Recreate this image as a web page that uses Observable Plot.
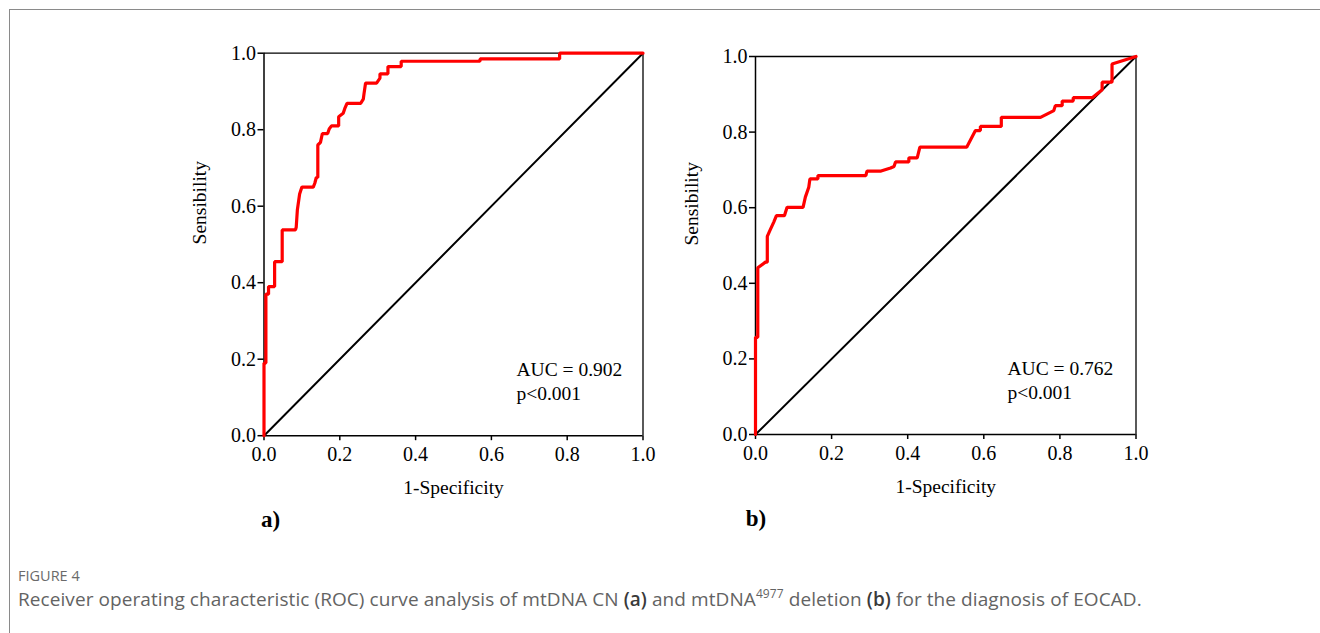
<!DOCTYPE html>
<html><head><meta charset="utf-8">
<script src="https://cdn.jsdelivr.net/npm/d3@7"></script>
<script src="https://cdn.jsdelivr.net/npm/@observablehq/plot@0.6"></script>
<style>
body{margin:0;background:#fff;width:1320px;height:633px;overflow:hidden;position:relative}
#frame{position:absolute;left:9px;top:9px;width:1400px;height:700px;border-left:1.5px solid #8a8a8a;border-top:1.5px solid #8a8a8a}
#pa{position:absolute;left:170px;top:30px}
#pb{position:absolute;left:660px;top:30px}
#fig{position:absolute;left:18px;top:566px;font:14.5px "Open Sans";color:#6a6a6a}
#cap{position:absolute;left:18px;top:586px;font:19px "Open Sans";color:#636363;white-space:nowrap;letter-spacing:0.08px}
#cap b{font-weight:600;color:#3a3a3a}
#cap sup{font-size:12px;vertical-align:8px;line-height:0}
</style>
</head><body>
<div id="frame"></div>
<div id="pa"></div>
<div id="pb"></div>
<div id="fig">FIGURE 4</div>
<div id="cap">Receiver operating characteristic (ROC) curve analysis of mtDNA CN <b>(a)</b> and mtDNA<sup>4977</sup> deletion <b>(b)</b> for the diagnosis of EOCAD.</div>
<script>
// Panel a: mtDNA CN ROC curve
const fprA = [0,0,0.005,0.005,0.012,0.012,0.028,0.028,0.048,0.048,0.083,0.085,0.088,0.094,0.10,0.13,0.134,0.138,0.142,0.142,0.149,0.154,0.168,0.172,0.178,0.197,0.197,0.209,0.213,0.219,0.255,0.262,0.264,0.268,0.297,0.306,0.306,0.327,0.327,0.362,0.362,0.57,0.57,0.78,0.78,1];
const tprA = [0,0.19,0.19,0.37,0.37,0.39,0.39,0.455,0.455,0.538,0.538,0.545,0.59,0.632,0.65,0.65,0.66,0.675,0.675,0.76,0.767,0.79,0.79,0.802,0.81,0.81,0.834,0.843,0.855,0.869,0.869,0.88,0.895,0.922,0.922,0.935,0.946,0.946,0.965,0.965,0.979,0.979,0.985,0.985,1,1];
// Panel b: mtDNA4977 deletion ROC curve
const fprB = [0,0,0.006,0.006,0.026,0.031,0.031,0.038,0.048,0.055,0.076,0.083,0.125,0.131,0.14,0.143,0.164,0.164,0.29,0.293,0.33,0.355,0.364,0.368,0.403,0.403,0.425,0.432,0.555,0.578,0.591,0.591,0.646,0.646,0.749,0.784,0.788,0.806,0.806,0.835,0.835,0.885,0.911,0.911,0.937,0.937,1];
const tprB = [0,0.257,0.257,0.441,0.456,0.456,0.524,0.54,0.562,0.579,0.579,0.601,0.601,0.628,0.654,0.676,0.676,0.685,0.685,0.697,0.697,0.705,0.709,0.721,0.721,0.732,0.732,0.76,0.76,0.804,0.804,0.815,0.815,0.839,0.839,0.857,0.87,0.87,0.882,0.882,0.891,0.891,0.912,0.932,0.932,0.98,1];
// Reference diagonal
const diagX = [0,1];
const diagY = [0,1];
// Axis ticks
const ticks = [0,0.2,0.4,0.6,0.8,1.0];
const xLabel = "1-Specificity";
const yLabel = "Sensibility";
const aucA = "AUC = 0.902", pA = "p<0.001", tagA = "a)";
const aucB = "AUC = 0.762", pB = "p<0.001", tagB = "b)";

function panel(fpr, tpr, auc, p, tag, m) {
  const curve = fpr.map((x, i) => ({x, y: tpr[i]}));
  const diag = diagX.map((x, i) => ({x, y: diagY[i]}));
  const fmt = d3.format(".1f");
  return Plot.plot({
    width: 500, height: 520,
    marginLeft: m.l, marginRight: m.r, marginTop: m.t, marginBottom: m.b,
    x: {domain: [0, 1]},
    y: {domain: [0, 1]},
    style: {fontFamily: "'Liberation Serif', serif", fontSize: "19px", color: "#000", background: "transparent", overflow: "visible"},
    marks: [
      Plot.axisX(ticks, {tickFormat: fmt, tickSize: 5, tickPadding: 6, label: null, strokeWidth: 1.5, fontSize: 20}),
      Plot.axisY(ticks, {tickFormat: fmt, tickSize: 6, tickPadding: 2, label: null, strokeWidth: 1.5, fontSize: 20}),
      Plot.ruleX([1], {stroke: "#000", strokeWidth: 1.3}),
      Plot.ruleY([1], {stroke: "#000", strokeWidth: 1.3}),
      Plot.ruleX([0], {stroke: "#000", strokeWidth: 1.5}),
      Plot.ruleY([0], {stroke: "#000", strokeWidth: 1.5}),
      Plot.line(diag, {x: "x", y: "y", stroke: "#000", strokeWidth: 2}),
      Plot.line(curve, {x: "x", y: "y", stroke: "#ff0000", strokeWidth: 3.2, strokeLinejoin: "miter"}),
      Plot.text([auc], {frameAnchor: "bottom-right", textAnchor: "start", dx: m.adx, dy: -60, fontSize: 19.5}),
      Plot.text([p], {frameAnchor: "bottom-right", textAnchor: "start", dx: m.adx, dy: -36, fontSize: 19.5}),
      Plot.text([xLabel], {frameAnchor: "bottom", dy: 58, fontSize: 19.5}),
      Plot.text([yLabel], {frameAnchor: "left", rotate: -90, dx: -64, fontSize: 19.5}),
      Plot.text([tag], {frameAnchor: "bottom-left", textAnchor: "middle", dx: m.tdx, dy: 91, fontSize: 23, fontWeight: "bold"})
    ]
  });
}

document.getElementById("pa").append(panel(fprA, tprA, aucA, pA, tagA, {l: 93.5, r: 27.5, t: 22.7, b: 114.8, adx: -126.5, tdx: 6.5}));
document.getElementById("pb").append(panel(fprB, tprB, aucB, pB, tagB, {l: 95, r: 24.5, t: 26, b: 116, adx: -128.5, tdx: 0.5}));
</script>
</body></html>
